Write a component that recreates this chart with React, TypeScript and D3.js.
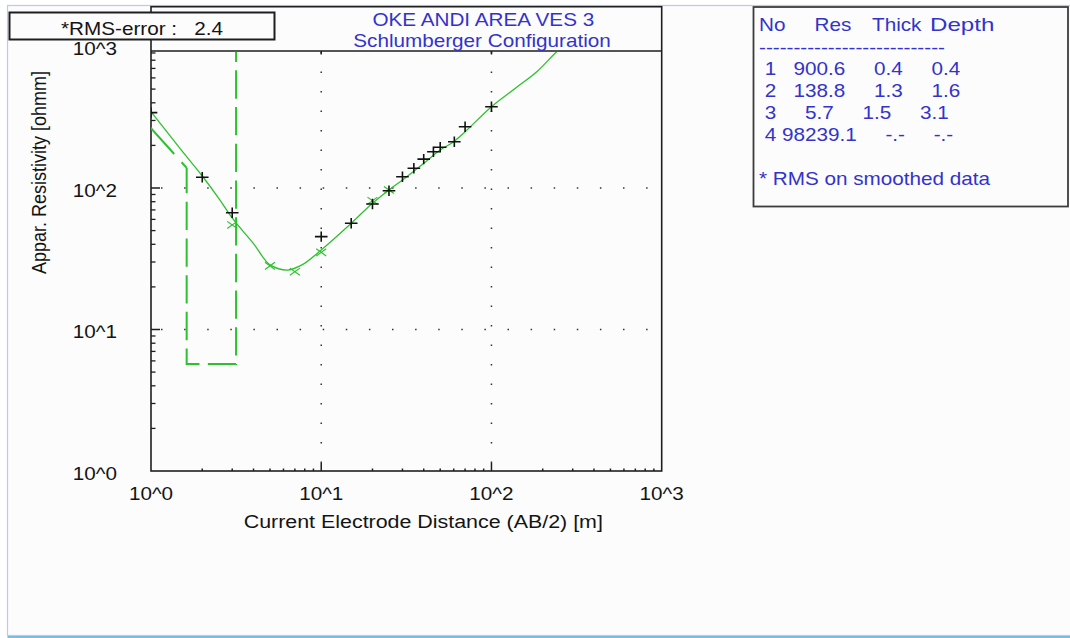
import React from "react";
import * as d3 from "d3";

// field data (AB/2 in m, apparent resistivity in ohmm)
const obsAB2 = [1, 2, 3, 10, 15, 20, 25, 30, 35, 40, 45.6, 50, 60.5, 70, 100];
const obsRho = [341, 119, 66.9, 45.3, 56.3, 77.1, 95.7, 120, 137.8, 160, 180.5, 194, 212.4, 271, 375.5];

// smoothed / calculated points
const calcAB2 = [3, 5, 7, 10, 20, 25];
const calcRho = [54.8, 28.2, 25.6, 35.1, 81.3, 96.8];

// model response curve
const curveAB2 = [1, 1.5, 2, 2.5, 3, 4, 5, 6.3, 7.7, 10, 15, 20, 25, 30, 40, 50, 60, 70, 100, 140.6, 184.6, 244, 300];
const curveRho = [346, 186.5, 121.6, 84.6, 61.4, 40.5, 28.6, 26.3, 28.6, 36.5, 56.3, 78, 96.8, 113.9, 149.5, 185.6, 212.4, 250, 375.5, 515, 663.5, 929, 1150];

// layered model
const layerRes = [900.6, 138.8, 5.7, 98239.1];
const layerDepth = [0.4, 1.62, 3.16];

// table strings
const tableHeader = ["No", "Res", "Thick", "Depth"];
const tableNo = ["1", "2", "3", "4"];
const tableRes = ["900.6", "138.8", "5.7", "98239.1"];
const tableThick = ["0.4", "1.3", "1.5", "-.-"];
const tableDepth = ["0.4", "1.6", "3.1", "-.-"];

const decades = [1, 10, 100, 1000];
const decadeLabels = ["10^0", "10^1", "10^2", "10^3"];
const rmsError = "2.4";

const FONT = "'Liberation Sans', Arial, sans-serif";
const BLUE = "#3333cc";
const GREEN = "#2fc02f";

function Txt({ x, y, anchor = "start", size = 18, fill = "#141414", sx = 1.15, children }: any) {
  return (
    <text
      transform={`translate(${x},${y}) scale(${sx},1)`}
      textAnchor={anchor}
      fontSize={size}
      fill={fill}
      fontFamily={FONT}
      style={{ whiteSpace: "pre" }}
    >
      {children}
    </text>
  );
}

export default function App() {
  const left = 151, right = 661.7, bottom = 471, top = 51;
  const x = d3.scaleLog().domain([1, 1000]).range([left, right]);
  const y = d3.scaleLog().domain([1, 1000]).range([bottom, 46.5]);

  const line = d3
    .line<[number, number]>()
    .x((d) => x(d[0]))
    .y((d) => y(d[1]));
  const smooth = d3
    .line<[number, number]>()
    .x((d) => x(d[0]))
    .y((d) => y(d[1]))
    .curve(d3.curveMonotoneX);

  const curvePts = curveAB2.map((a, i) => [a, curveRho[i]] as [number, number]);
  const stepPts: [number, number][] = [
    [layerDepth[0], layerRes[0]],
    [layerDepth[1], layerRes[1]],
    [layerDepth[1], layerRes[2]],
    [layerDepth[2], layerRes[2]],
    [layerDepth[2], layerRes[3]],
  ];
  // diagonal part of the model is drawn with its own (pixel-stepped) dash
  const diagPts = stepPts.slice(0, 2);
  const stepRest = stepPts.slice(1);

  const minor: number[] = [];
  decades.slice(0, 3).forEach((d) => {
    for (let k = 2; k <= 9; k++) minor.push(d * k);
  });
  const inner = [10, 100];

  const rows = tableNo.map(
    (n, i) => " " + n + tableRes[i].padStart(8) + tableThick[i].padStart(8) + tableDepth[i].padStart(8)
  );
  const headerX = [759, 814.5, 872, 930];
  const headerSx = [1.15, 1.15, 1.15, 1.34];

  return (
    <svg
      width={1070}
      height={638}
      style={{ position: "absolute", left: 0, top: 0, background: "#ffffff" }}
    >
      {/* window */}
      <rect x={7.5} y={5.5} width={1070} height={630} fill="#fcfcfc" stroke="#b4cde9" strokeWidth={1.2} />
      <line x1={7.5} x2={1070} y1={637} y2={637} stroke="#4ea6da" strokeWidth={1.5} />

      {/* plot frame */}
      <rect x={left} y={6.7} width={right - left} height={bottom - 6.7} fill="#fcfcfc" stroke="#1e1e1e" strokeWidth={1.6} />
      <line x1={left} x2={right} y1={top} y2={top} stroke="#1e1e1e" strokeWidth={1.6} />

      <defs>
        <clipPath id="plot">
          <rect x={left} y={top + 0.8} width={right - left} height={bottom - top - 0.8} />
        </clipPath>
      </defs>

      {/* grid dots */}
      {inner.map((v) => (
        <line key={"gv" + v} x1={x(v)} x2={x(v)} y1={bottom} y2={top} stroke="#333" strokeWidth={1.5} strokeDasharray="1.5 18" strokeDashoffset={-8} />
      ))}
      {inner.map((v) => (
        <line key={"gh" + v} x1={left} x2={right} y1={y(v)} y2={y(v)} stroke="#333" strokeWidth={1.5} strokeDasharray="1.5 21.6" strokeDashoffset={-10} />
      ))}

      {/* ticks */}
      {minor.map((v) => (
        <g key={"mt" + v}>
          <line x1={left} x2={left + 4.5} y1={y(v)} y2={y(v)} stroke="#1e1e1e" strokeWidth={1.3} />
          <line x1={x(v)} x2={x(v)} y1={bottom} y2={bottom - 2.5} stroke="#1e1e1e" strokeWidth={1.5} />
        </g>
      ))}
      {inner.map((v) => (
        <g key={"Mt" + v}>
          <line x1={left} x2={left + 9} y1={y(v)} y2={y(v)} stroke="#1e1e1e" strokeWidth={1.5} />
          <line x1={x(v)} x2={x(v)} y1={bottom} y2={bottom - 8} stroke="#1e1e1e" strokeWidth={1.5} />
          <line x1={x(v)} x2={x(v)} y1={top} y2={top + 3.5} stroke="#1e1e1e" strokeWidth={1.5} />
        </g>
      ))}

      <g clipPath="url(#plot)">
        {/* layered model */}
        <path d={line(diagPts) || ""} fill="none" stroke={GREEN} strokeWidth={2} strokeDasharray="46 11" strokeDashoffset={-33} />
        <path d={line(stepRest) || ""} fill="none" stroke={GREEN} strokeWidth={2} strokeDasharray="28.3 8.4" strokeDashoffset={2.8} />
        {/* model curve */}
        <path d={smooth(curvePts) || ""} fill="none" stroke={GREEN} strokeWidth={1.3} />
        {/* calculated */}
        {calcAB2.map((a, i) => {
          const cx = x(a), cy = y(calcRho[i]);
          return (
            <path key={"c" + i} d={`M${cx - 5},${cy - 3.6}L${cx + 5},${cy + 3.6}M${cx - 5},${cy + 3.6}L${cx + 5},${cy - 3.6}`} stroke={GREEN} strokeWidth={1.2} fill="none" />
          );
        })}
        {/* observed */}
        {obsAB2.map((a, i) => {
          const cx = x(a), cy = y(obsRho[i]);
          return (
            <path key={"o" + i} d={`M${cx - 6.3},${cy}H${cx + 6.3}M${cx},${cy - 5.2}V${cy + 5.2}`} stroke="#111" strokeWidth={1.6} fill="none" />
          );
        })}
      </g>

      {/* axis labels */}
      {decades.map((v, i) => (
        <Txt key={"yl" + v} x={117} y={Math.min(y(v) + 8.6, bottom + 9)} anchor="end">
          {decadeLabels[i]}
        </Txt>
      ))}
      {decades.map((v, i) => (
        <Txt key={"xl" + v} x={x(v)} y={500} anchor="middle">
          {decadeLabels[i]}
        </Txt>
      ))}
      <Txt x={423.3} y={527.7} anchor="middle" sx={1.19}>
        Current Electrode Distance (AB/2) [m]
      </Txt>
      <text
        transform="translate(45.5,172.5) rotate(-90) scale(1,1.15)"
        textAnchor="middle"
        fontSize={18}
        fill="#141414"
        fontFamily={FONT}
      >
        Appar. Resistivity [ohmm]
      </text>

      {/* title */}
      <Txt x={483.3} y={26} anchor="middle" fill={BLUE}>OKE ANDI AREA VES 3</Txt>
      <Txt x={482} y={46.5} anchor="middle" fill={BLUE}>Schlumberger Configuration</Txt>

      {/* rms box */}
      <rect x={9.5} y={12.5} width={265} height={27} fill="#fcfcfc" stroke="#1e1e1e" strokeWidth={2} />
      <Txt x={61} y={34.5}>{"*RMS-error :   " + rmsError}</Txt>

      {/* layer table */}
      <rect x={753.5} y={7} width={314.5} height={199.5} fill="#fcfcfc" stroke="#3c3c3c" strokeWidth={1.8} />
      {tableHeader.map((h, i) => (
        <Txt key={"h" + i} x={headerX[i]} y={30.7} fill={BLUE} sx={headerSx[i]}>{h}</Txt>
      ))}
      <Txt x={759} y={54} fill={BLUE}>{"-".repeat(27)}</Txt>
      {rows.map((r, i) => (
        <Txt key={"r" + i} x={759} y={75 + i * 21.9} fill={BLUE}>{r}</Txt>
      ))}
      <Txt x={759} y={185} fill={BLUE}>* RMS on smoothed data</Txt>
    </svg>
  );
}
